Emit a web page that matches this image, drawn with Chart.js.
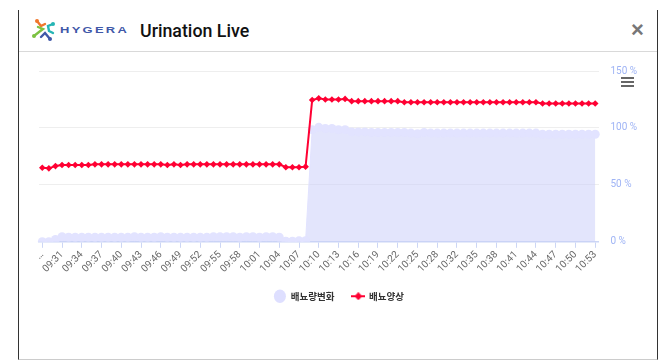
<!DOCTYPE html>
<html>
<head>
    <title>Urination Live</title>
    <meta charset="utf-8">
    <script src="https://cdn.jsdelivr.net/npm/chart.js"></script>
    <style>
        html, body { margin: 0; padding: 0; background: #fff; width: 664px; height: 364px; overflow: hidden; }
        .modal { position: absolute; left: 18px; top: 10px; width: 638px; height: 349px; border-left: 1.5px solid #333; border-right: 1.5px solid #333; border-bottom: 1px solid #ccc; }
        .header { position: absolute; left: 0; top: 0; right: 0; height: 41px; border-bottom: 1px solid #d9d9d9; }
        .logo { position: absolute; left: 32px; top: 18px; }
        .brand { position: absolute; left: 60px; top: 24px; font: bold 9.5px "Liberation Sans", sans-serif; color: #3f58a8; letter-spacing: 1.7px; transform-origin: left center; transform: scaleX(1.36); white-space: nowrap; }
        .title { position: absolute; left: 140px; top: 20px; font: 500 17.8px Roboto, sans-serif; color: #111; white-space: nowrap; }
        .close { position: absolute; left: 631px; top: 17px; font: bold 22px "Liberation Sans", sans-serif; color: #777; line-height: 26px; }
        .menu { position: absolute; left: 621px; top: 77px; width: 13px; }
        .menu div { height: 2px; background: #666; margin-bottom: 2px; }
        #chartBox { position: absolute; left: 19px; top: 52px; width: 638px; height: 259px; }
    </style>
</head>
<body>
<div class="modal"></div>
<div class="header" style="top:10px;left:19px;right:7px"></div>
<svg class="logo" width="24" height="24" viewBox="0 0 24 24">
    <g stroke-width="2.4" fill="none" stroke-linecap="round">
        <path d="M5 3 L9 8 L13 6" stroke="#f0762b"/>
        <path d="M21 6 L16 8 L17 13 L21 15" stroke="#25b5b5"/>
        <path d="M2 18 L7 14 L11 11 L6 9" stroke="#7cc242"/>
        <path d="M9 19 L13 15 L18 21" stroke="#3f58a8"/>
    </g>
    <circle cx="5" cy="3" r="2" fill="#f0762b"/>
    <circle cx="21" cy="6" r="2" fill="#25b5b5"/>
    <circle cx="2" cy="18" r="2" fill="#7cc242"/>
    <circle cx="18" cy="21" r="2" fill="#3f58a8"/>
</svg>
<div class="brand">HYGERA</div>
<div class="title">Urination Live</div>
<div class="close">×</div>
<div id="chartBox"><canvas id="liveChart" width="638" height="259"></canvas></div>
<div class="menu"><div></div><div></div><div></div></div>

<script>
const timeLabels = ["…","09:29","09:30","09:31","09:32","09:33","09:34","09:35","09:36","09:37","09:38","09:39","09:40","09:41","09:42","09:43","09:44","09:45","09:46","09:47","09:48","09:49","09:50","09:51","09:52","09:53","09:54","09:55","09:56","09:57","09:58","09:59","10:00","10:01","10:02","10:03","10:04","10:05","10:06","10:07","10:08","10:09","10:10","10:11","10:12","10:13","10:14","10:15","10:16","10:17","10:18","10:19","10:20","10:21","10:22","10:23","10:24","10:25","10:26","10:27","10:28","10:29","10:31","10:32","10:33","10:34","10:35","10:36","10:37","10:38","10:39","10:40","10:41","10:42","10:43","10:44","10:45","10:46","10:47","10:48","10:49","10:50","10:51","10:52","10:53"];
const amountChange = [0,0,2,4.5,4,4,4,4,4,4,4,4,4,4,4.5,4,4,4,4.5,4,4,4,4,4,4,4,4.5,4.5,4.5,4.5,4,4.5,4.5,4,4.5,4.5,4,0.5,0.5,1,1,98.5,100.5,99.5,99.5,98.5,98.5,96.5,96.5,96.5,96,96,96,96,96,96,95.5,95,96,95.5,95.5,95.5,95.5,95.5,95.5,95.5,95.5,95.5,95.5,95.5,95.5,95.5,95.5,95.5,95.5,95.5,94.5,94.5,94.5,94.5,94.5,94.5,94.5,94.5,94.5];
const urinePattern = [65,64.5,66.5,67.5,67.5,67.5,67.5,67.5,68,68,68,68,68,68,68,68,68,68,68,67.5,68,67.5,68,68,68,68,68,68,68,68,68,68,68,68,68,68,68,65.5,65.5,65.5,66,124.5,126,125,125,125,125.5,123.5,123.5,123.5,123.5,123.5,123.5,123.5,123.5,122.5,122.5,122.5,122.5,122.5,122.5,122.5,122.5,122.5,122.5,122.5,122.5,122.5,122.5,122.5,122.5,122.5,122.5,122.5,122.5,122.5,121.5,121.5,121.5,121.5,121.5,121.5,121.5,121.5,121.5];
const yTicks = [0, 50, 100, 150];
const seriesNames = ["배뇨량변화", "배뇨양상"];

// legend marker for the line series: short line with a diamond on it
function lineMarker() {
    const c = document.createElement('canvas');
    c.width = 14; c.height = 8;
    const g = c.getContext('2d');
    g.fillStyle = '#ff0033';
    g.fillRect(0, 3, 14, 2);
    g.beginPath(); g.moveTo(7, 0); g.lineTo(11, 4); g.lineTo(7, 8); g.lineTo(3, 4); g.closePath(); g.fill();
    return c;
}

new Chart(document.getElementById('liveChart').getContext('2d'), {
    type: 'line',
    data: {
        labels: timeLabels,
        datasets: [
            {
                label: seriesNames[0],
                data: amountChange,
                order: 2,
                fill: 'origin',
                backgroundColor: 'rgba(200,204,250,0.5)',
                borderColor: '#e2e3ff',
                borderWidth: 1,
                pointStyle: 'circle',
                pointRadius: 4.5,
                pointBackgroundColor: '#e2e3ff',
                pointBorderWidth: 0
            },
            {
                label: seriesNames[1],
                data: urinePattern,
                order: 1,
                borderColor: '#ff0033',
                borderWidth: 2,
                pointStyle: 'rectRot',
                pointRadius: 3.3,
                pointBackgroundColor: '#ff0033',
                pointBorderWidth: 0
            }
        ]
    },
    options: {
        responsive: false,
        animation: false,
        events: [],
        layout: { padding: { left: 20, top: 19, right: 18, bottom: 0 } },
        plugins: {
            tooltip: { enabled: false },
            legend: {
                position: 'bottom',
                labels: {
                    usePointStyle: true,
                    pointStyleWidth: 12,
                    boxHeight: 10,
                    padding: 18,
                    color: '#333',
                    font: { family: '"Noto Sans CJK KR"', size: 9.5, weight: 'bold' },
                    generateLabels: chart => seriesNames.map((name, i) => ({
                        text: name,
                        datasetIndex: i,
                        fontColor: '#333',
                        fillStyle: '#dedfff',
                        strokeStyle: '#dedfff',
                        lineWidth: 0,
                        pointStyle: i === 0 ? 'circle' : lineMarker()
                    }))
                }
            }
        },
        scales: {
            x: {
                type: 'category',
                offset: true,
                afterBuildTicks: s => { s.ticks = s.ticks.filter(t => t.value % 3 === 0); },
                afterFit: s => { s.height = 31.7; },
                border: { color: '#ccd6f5', width: 1.5 },
                grid: { drawOnChartArea: false, tickLength: 6, tickColor: '#ccd6f5', offset: false },
                ticks: {
                    autoSkip: false,
                    maxRotation: 45,
                    minRotation: 45,
                    padding: 1,
                    color: '#666',
                    font: { family: 'Roboto', size: 10 }
                }
            },
            y: {
                position: 'right',
                min: 0,
                max: 150,
                afterBuildTicks: s => { s.ticks = yTicks.map(v => ({ value: v })); },
                afterFit: s => { s.width = 40.5; },
                border: { display: false },
                grid: { color: '#eeeeee', drawTicks: false },
                ticks: {
                    padding: 12,
                    color: '#9fb4f5',
                    font: { family: 'Roboto', size: 10 },
                    callback: v => v + ' %'
                }
            }
        }
    }
});
</script>
</body>
</html>
